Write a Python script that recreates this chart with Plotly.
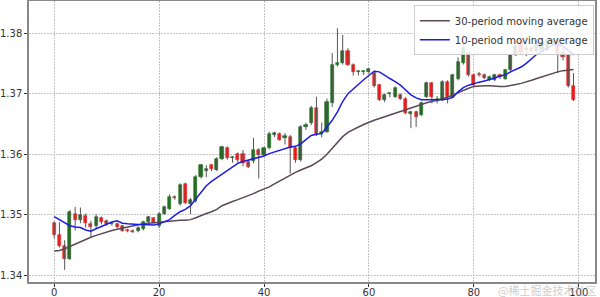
import plotly.graph_objects as go

idx = list(range(100))

opens = [1.3486, 1.3466, 1.3448, 1.3427, 1.3502, 1.3491, 1.3498, 1.3485, 1.3481, 1.3495,
         1.3490, 1.3484, 1.3484, 1.3481, 1.3475, 1.3474, 1.3473, 1.3476, 1.3488, 1.3494,
         1.3481, 1.3502, 1.3510, 1.3530, 1.3518, 1.3551, 1.3518, 1.3522, 1.3563, 1.3572,
         1.3582, 1.3574, 1.3592, 1.3611, 1.3593, 1.3601, 1.3601, 1.3587, 1.3588, 1.3607,
         1.3599, 1.3610, 1.3632, 1.3634, 1.3627, 1.3629, 1.3610, 1.3590, 1.3645, 1.3651,
         1.3676, 1.3634, 1.3637, 1.3684, 1.3748, 1.3750, 1.3770, 1.3748, 1.3735, 1.3735,
         1.3735, 1.3734, 1.3714, 1.3690, 1.3699, 1.3695, 1.3698, 1.3692, 1.3666, 1.3670,
         1.3665, 1.3695, 1.3717, 1.3688, 1.3690, 1.3720, 1.3695, 1.3725, 1.3750, 1.3767,
         1.3731, 1.3733, 1.3731, 1.3723, 1.3723, 1.3731, 1.3725, 1.3739, 1.3764, 1.3786,
         1.3772, 1.3775, 1.3770, 1.3772, 1.3772, 1.3784, 1.3789, 1.3767, 1.3764, 1.3712]
highs = [1.3489, 1.3488, 1.3458, 1.3508, 1.3513, 1.3512, 1.3502, 1.3490, 1.3501, 1.3497,
         1.3492, 1.3488, 1.3487, 1.3483, 1.3477, 1.3476, 1.3481, 1.3490, 1.3498, 1.3496,
         1.3504, 1.3515, 1.3534, 1.3532, 1.3552, 1.3553, 1.3528, 1.3566, 1.3584, 1.3582,
         1.3584, 1.3595, 1.3614, 1.3613, 1.3597, 1.3603, 1.3607, 1.3590, 1.3627, 1.3610,
         1.3612, 1.3637, 1.3637, 1.3636, 1.3635, 1.3632, 1.3613, 1.3648, 1.3652, 1.3680,
         1.3695, 1.3652, 1.3692, 1.3767, 1.3808, 1.3797, 1.3775, 1.3750, 1.3738, 1.3739,
         1.3742, 1.3736, 1.3716, 1.3700, 1.3702, 1.3712, 1.3700, 1.3694, 1.3672, 1.3672,
         1.3687, 1.3720, 1.3719, 1.3696, 1.3722, 1.3722, 1.3733, 1.3760, 1.3783, 1.3770,
         1.3733, 1.3736, 1.3733, 1.3730, 1.3733, 1.3733, 1.3741, 1.3766, 1.3788, 1.3789,
         1.3781, 1.3778, 1.3791, 1.3791, 1.3792, 1.3790, 1.3791, 1.3775, 1.3766, 1.3734]
lows = [1.3461, 1.3446, 1.3409, 1.3425, 1.3474, 1.3486, 1.3479, 1.3463, 1.3478, 1.3484,
        1.3482, 1.3482, 1.3478, 1.3472, 1.3471, 1.3470, 1.3471, 1.3474, 1.3485, 1.3485,
        1.3478, 1.3500, 1.3508, 1.3525, 1.3515, 1.3518, 1.3501, 1.3520, 1.3560, 1.3562,
        1.3572, 1.3572, 1.3590, 1.3591, 1.3586, 1.3586, 1.3580, 1.3577, 1.3585, 1.3560,
        1.3597, 1.3608, 1.3628, 1.3622, 1.3616, 1.3568, 1.3586, 1.3588, 1.3640, 1.3648,
        1.3630, 1.3628, 1.3635, 1.3678, 1.3745, 1.3748, 1.3746, 1.3730, 1.3730, 1.3731,
        1.3733, 1.3710, 1.3688, 1.3686, 1.3694, 1.3693, 1.3690, 1.3666, 1.3643, 1.3645,
        1.3663, 1.3693, 1.3684, 1.3684, 1.3688, 1.3684, 1.3693, 1.3722, 1.3748, 1.3728,
        1.3710, 1.3728, 1.3724, 1.3721, 1.3721, 1.3724, 1.3723, 1.3737, 1.3762, 1.3765,
        1.3762, 1.3768, 1.3768, 1.3770, 1.3770, 1.3778, 1.3734, 1.3755, 1.3710, 1.3688]
closes = [1.3466, 1.3448, 1.3427, 1.3505, 1.3491, 1.3500, 1.3487, 1.3480, 1.3496, 1.3488,
          1.3484, 1.3487, 1.3480, 1.3474, 1.3473, 1.3472, 1.3479, 1.3488, 1.3496, 1.3487,
          1.3502, 1.3513, 1.3530, 1.3527, 1.3550, 1.3520, 1.3524, 1.3563, 1.3582, 1.3575,
          1.3575, 1.3592, 1.3612, 1.3593, 1.3595, 1.3590, 1.3585, 1.3579, 1.3607, 1.3599,
          1.3610, 1.3634, 1.3635, 1.3624, 1.3630, 1.3610, 1.3590, 1.3645, 1.3649, 1.3676,
          1.3634, 1.3637, 1.3687, 1.3748, 1.3751, 1.3770, 1.3748, 1.3735, 1.3737, 1.3737,
          1.3740, 1.3712, 1.3690, 1.3698, 1.3701, 1.3709, 1.3692, 1.3668, 1.3669, 1.3662,
          1.3684, 1.3717, 1.3695, 1.3691, 1.3720, 1.3695, 1.3731, 1.3753, 1.3775, 1.3731,
          1.3714, 1.3730, 1.3726, 1.3728, 1.3731, 1.3727, 1.3739, 1.3764, 1.3778, 1.3767,
          1.3775, 1.3771, 1.3789, 1.3786, 1.3789, 1.3786, 1.3767, 1.3760, 1.3712, 1.3690]

ma30 = [1.3440, 1.3441, 1.3444, 1.3448, 1.3452, 1.3456, 1.3459, 1.3463, 1.3466, 1.3469,
        1.3472, 1.3474, 1.3476, 1.3478, 1.3480, 1.3482, 1.3484, 1.3485, 1.3486, 1.3487,
        1.3488, 1.3489, 1.3490, 1.3491, 1.3491, 1.3491, 1.3492, 1.3495, 1.3499, 1.3502,
        1.3505, 1.3509, 1.3515, 1.3519, 1.3522, 1.3525, 1.3528, 1.3532, 1.3535, 1.3539,
        1.3542, 1.3546, 1.3551, 1.3556, 1.3561, 1.3565, 1.3570, 1.3574, 1.3577, 1.3581,
        1.3586, 1.3592, 1.3600, 1.3610, 1.3620, 1.3629, 1.3636, 1.3641, 1.3645, 1.3649,
        1.3653, 1.3656, 1.3659, 1.3662, 1.3665, 1.3668, 1.3670, 1.3673, 1.3676, 1.3679,
        1.3682, 1.3685, 1.3687, 1.3689, 1.3691, 1.3694, 1.3698, 1.3702, 1.3706, 1.3709,
        1.3712, 1.3713, 1.3713, 1.3713, 1.3712, 1.3712, 1.3712, 1.3713, 1.3715, 1.3717,
        1.3719, 1.3722, 1.3725, 1.3728, 1.3731, 1.3734, 1.3736, 1.3738, 1.3739, 1.3740]
ma10 = [1.3497, 1.3492, 1.3486, 1.3482, 1.3480, 1.3479, 1.3475, 1.3473, 1.3477, 1.3481,
        1.3485, 1.3488, 1.3490, 1.3486, 1.3485, 1.3484, 1.3484, 1.3484, 1.3484, 1.3483,
        1.3485, 1.3488, 1.3492, 1.3499, 1.3505, 1.3509, 1.3515, 1.3526, 1.3537, 1.3548,
        1.3555, 1.3561, 1.3567, 1.3573, 1.3579, 1.3585, 1.3588, 1.3590, 1.3592, 1.3594,
        1.3597, 1.3601, 1.3604, 1.3607, 1.3610, 1.3612, 1.3613, 1.3617, 1.3624, 1.3631,
        1.3633, 1.3634, 1.3645, 1.3656, 1.3670, 1.3687, 1.3700, 1.3708, 1.3715, 1.3723,
        1.3730, 1.3737, 1.3736, 1.3730, 1.3725, 1.3720, 1.3714, 1.3706, 1.3698, 1.3693,
        1.3690, 1.3690, 1.3690, 1.3689, 1.3690, 1.3691, 1.3694, 1.3703, 1.3710, 1.3714,
        1.3717, 1.3719, 1.3721, 1.3723, 1.3726, 1.3729, 1.3731, 1.3736, 1.3740, 1.3744,
        1.3750, 1.3758, 1.3765, 1.3770, 1.3775, 1.3780, 1.3781, 1.3778, 1.3772, 1.3764]

x_ticks = [0, 20, 40, 60, 80, 100]
y_ticks = [1.34, 1.35, 1.36, 1.37, 1.38]

UP = "#1d6e1d"
DOWN = "#ee2222"

fig = go.Figure()

# wicks
wx, wy = [], []
for i, h, l in zip(idx, highs, lows):
    wx += [i, i, None]
    wy += [l, h, None]
fig.add_trace(go.Scatter(x=wx, y=wy, mode="lines", line=dict(color="#555555", width=1),
                         showlegend=False, hoverinfo="skip"))

# bodies
base = [min(o, c) for o, c in zip(opens, closes)]
height = [abs(c - o) for o, c in zip(opens, closes)]
cols = [UP if c >= o else DOWN for o, c in zip(opens, closes)]
fig.add_trace(go.Bar(x=idx, y=height, base=base, width=0.6,
                     marker=dict(color=cols, line=dict(color=cols, width=0.6)),
                     showlegend=False))

fig.add_trace(go.Scatter(x=idx, y=ma30, mode="lines", name="30-period moving average",
                         line=dict(color="#5a4856", width=1.5)))
fig.add_trace(go.Scatter(x=idx, y=ma10, mode="lines", name="10-period moving average",
                         line=dict(color="#1c1ce0", width=1.5)))

axis_common = dict(showline=True, linecolor="#888888", linewidth=1.5, mirror=True,
                   ticks="outside", ticklen=3, tickcolor="#333333",
                   showgrid=True, gridcolor="#c4c4c4", griddash="2px,1px", gridwidth=1,
                   zeroline=False, automargin=False,
                   tickfont=dict(family="DejaVu Sans", size=10, color="#333333"))

fig.update_layout(
    width=600, height=297,
    margin=dict(l=29, r=5, t=1, b=15),
    paper_bgcolor="white", plot_bgcolor="white",
    bargap=0,
    xaxis=dict(range=[-4.8, 103.1], tickvals=x_ticks, ticklabelstandoff=-3, **axis_common),
    yaxis=dict(range=[1.3389, 1.3853], tickvals=y_ticks, tickformat=".2f", **axis_common),
    legend=dict(x=0.998, y=0.985, xanchor="right", yanchor="top",
                bgcolor="rgba(255,255,255,0.85)", bordercolor="#cccccc", borderwidth=1,
                font=dict(family="DejaVu Sans", size=10, color="#333333"),
                tracegroupgap=0),
    annotations=[dict(text="@稀土掘金技术社区", xref="paper", yref="paper",
                      x=1.005, y=-0.027, xanchor="right", yanchor="middle", showarrow=False,
                      font=dict(family="Noto Sans CJK SC", size=11, color="rgba(170,170,170,0.6)"))],
    showlegend=True,
)

fig.write_html("out.html")
